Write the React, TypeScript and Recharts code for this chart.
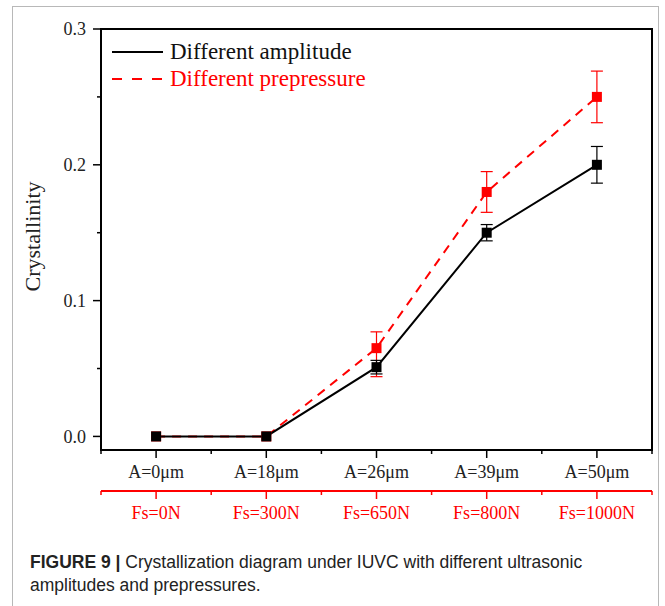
import { LineChart, Line, XAxis, YAxis, ErrorBar, Legend, ReferenceArea } from 'recharts';

const amplitudeLabels = ['A=0μm', 'A=18μm', 'A=26μm', 'A=39μm', 'A=50μm'];
const prepressureLabels = ['Fs=0N', 'Fs=300N', 'Fs=650N', 'Fs=800N', 'Fs=1000N'];
const amplitudeValues = [0, 0, 0.051, 0.15, 0.2];
const amplitudeErrors = [null, null, 0.005, 0.006, 0.0135];
const prepressureValues = [0, 0, 0.065, 0.18, 0.25];
const prepressureErrors: Array<number | number[] | null> = [null, null, [0.021, 0.012], 0.015, 0.019];
const yTicks = [0, 0.05, 0.1, 0.15, 0.2, 0.25, 0.3];
const xTicks = [-0.5, 0, 0.5, 1, 1.5, 2, 2.5, 3, 3.5, 4, 4.5];

const RED = '#ff0000';
const SERIF = '"Liberation Serif", "Times New Roman", serif';

const data = amplitudeValues.map((v, i) => ({
  x: i,
  amplitude: v,
  amplitudeErr: amplitudeErrors[i],
  prepressure: prepressureValues[i],
  prepressureErr: prepressureErrors[i],
}));

const makeXTick = (labels: string[], color: string) => (props: any) => {
  const { x, y, payload } = props;
  const v = payload.value;
  const major = Number.isInteger(v);
  return (
    <g>
      <line x1={x} x2={x} y1={y} y2={y + (major ? 8 : 4)} stroke={color} strokeWidth={1.5} />
      {major && (
        <text x={x} y={y + 28} textAnchor="middle" fontFamily={SERIF} fontSize={18} fill={color === RED ? RED : '#222'}>
          {labels[v]}
        </text>
      )}
    </g>
  );
};

const YTick = (props: any) => {
  const { x, y, payload } = props;
  const v = payload.value;
  const major = Math.round(v * 100) % 10 === 0;
  return (
    <g>
      <line x1={x - (major ? 8 : 4)} x2={x} y1={y} y2={y} stroke="#000" strokeWidth={1.5} />
      {major && (
        <text x={x - 15} y={y} dy="0.35em" textAnchor="end" fontFamily={SERIF} fontSize={18} fill="#222">
          {v.toFixed(1)}
        </text>
      )}
    </g>
  );
};

const Square = (color: string) => (props: any) => {
  const { cx, cy, index } = props;
  if (cx == null || cy == null) return <g key={index} />;
  return <rect key={index} x={cx - 5} y={cy - 5} width={10} height={10} fill={color} />;
};

// legend drawn inside the plot, top-left
const renderLegend = () => (
  <div style={{ fontFamily: SERIF, fontSize: 23, lineHeight: '27px' }}>
    <div style={{ display: 'flex', alignItems: 'center', color: '#111' }}>
      <svg width={60} height={10}>
        <line x1={2} x2={53} y1={5} y2={5} stroke="#000" strokeWidth={2} />
      </svg>
      <span>Different amplitude</span>
    </div>
    <div style={{ display: 'flex', alignItems: 'center', color: RED }}>
      <svg width={60} height={10}>
        <line x1={2} x2={53} y1={5} y2={5} stroke={RED} strokeWidth={2} strokeDasharray="10 10" />
      </svg>
      <span>Different prepressure</span>
    </div>
  </div>
);

export default function App() {
  return (
    <div style={{ position: 'absolute', left: 0, top: 0, width: 665, height: 606, background: '#fff', overflow: 'hidden' }}>
      <div style={{ position: 'absolute', left: 12, top: 6, width: 645, height: 640, border: '1.5px solid #b8b8b8' }} />
      <div style={{ position: 'absolute', left: 0, top: 0 }}>
        <LineChart width={665} height={540} data={data} margin={{ top: 29, right: 13, bottom: 9, left: 31 }}>
          <XAxis
            dataKey="x"
            type="number"
            domain={[-0.5, 4.5]}
            ticks={xTicks}
            interval={0}
            height={41}
            tickSize={0}
            tickMargin={0}
            tickLine={false}
            axisLine={{ stroke: '#000', strokeWidth: 2 }}
            tick={makeXTick(amplitudeLabels, '#000')}
          />
          <XAxis
            xAxisId="fs"
            dataKey="x"
            type="number"
            domain={[-0.5, 4.5]}
            ticks={xTicks}
            interval={0}
            height={40}
            tickSize={0}
            tickMargin={0}
            tickLine={false}
            axisLine={{ stroke: RED, strokeWidth: 2 }}
            tick={makeXTick(prepressureLabels, RED)}
          />
          <YAxis
            type="number"
            domain={[-0.01, 0.3]}
            ticks={yTicks}
            interval={0}
            width={70}
            tickSize={0}
            tickMargin={0}
            tickLine={false}
            axisLine={{ stroke: '#000', strokeWidth: 2 }}
            tick={<YTick />}
            label={({ viewBox }: any) => (
              <text
                x={viewBox.x + 1}
                y={viewBox.y + viewBox.height / 2 - 3}
                transform={`rotate(-90, ${viewBox.x + 1}, ${viewBox.y + viewBox.height / 2 - 3})`}
                textAnchor="middle"
                dominantBaseline="central"
                fontFamily={SERIF}
                fontSize={22}
                fill="#222"
              >
                Crystallinity
              </text>
            )}
          />
          <ReferenceArea x1={-0.5} x2={4.5} y1={-0.01} y2={0.3} fill="none" stroke="#000" strokeWidth={2} ifOverflow="visible" />
          <Legend
            layout="horizontal"
            verticalAlign="middle"
            align="center"
            content={renderLegend}
            wrapperStyle={{ left: 110, top: 38, width: 320 }}
          />
          <Line
            dataKey="prepressure"
            stroke={RED}
            strokeWidth={2}
            strokeDasharray="9 7"
            dot={Square(RED)}
            activeDot={false}
            isAnimationActive={false}
            legendType="none"
          >
            <ErrorBar dataKey="prepressureErr" width={6} stroke={RED} strokeWidth={1.2} direction="y" />
          </Line>
          <Line
            dataKey="amplitude"
            stroke="#000"
            strokeWidth={2}
            dot={Square('#000')}
            activeDot={false}
            isAnimationActive={false}
            legendType="none"
          >
            <ErrorBar dataKey="amplitudeErr" width={6} stroke="#000" strokeWidth={1.2} direction="y" />
          </Line>
        </LineChart>
      </div>
      <div
        style={{
          position: 'absolute',
          left: 30,
          top: 551,
          width: 625,
          fontFamily: '"Liberation Sans", Arial, sans-serif',
          fontSize: 17.5,
          lineHeight: '23px',
          color: '#222',
          whiteSpace: 'nowrap',
        }}
      >
        <div>
          <b>FIGURE 9 |</b>
          <span> Crystallization diagram under IUVC with different ultrasonic</span>
        </div>
        <div>amplitudes and prepressures.</div>
      </div>
    </div>
  );
}
